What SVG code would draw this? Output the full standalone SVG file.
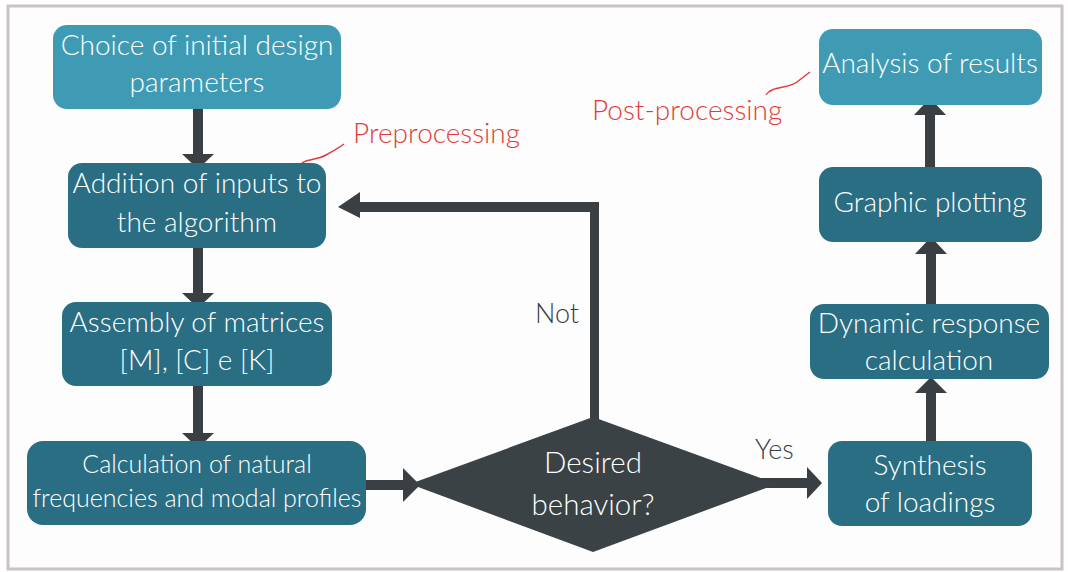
<svg xmlns="http://www.w3.org/2000/svg" width="1068" height="572" viewBox="0 0 1068 572">
<style>
.lt{fill:#3f9bb4}
.dk{fill:#2a6e84}
.t{font-family:Lato,"Open Sans","Liberation Sans",sans-serif;font-weight:300;fill:#ffffff;text-anchor:middle;font-size:28px}
.s{font-size:25px}
.d{font-size:29.5px}
.lbl{font-family:Lato,"Open Sans","Liberation Sans",sans-serif;font-weight:300;fill:#3a3f44;font-size:27px}
.red{font-family:Lato,"Open Sans","Liberation Sans",sans-serif;font-weight:300;fill:#e03c3c;font-size:28px}
.ar{fill:#3a3f44}
.cv{fill:none;stroke:#e03c3c;stroke-width:1.5}
</style>
<rect x="0" y="0" width="1068" height="572" fill="#ffffff"/>
<rect x="8" y="6" width="1054" height="563" fill="#fdfdfd" stroke="#c9c3c1" stroke-width="3"/>

<g id="connectors">
<polygon class="ar" points="193,109 203,109 203,154 214,154 198,169 182,154 193,154"/>
<polygon class="ar" points="193,248 203,248 203,293 214,293 198,308 182,293 193,293"/>
<polygon class="ar" points="193,386 203,386 203,433 214,433 198,448 182,433 193,433"/>
<polygon class="ar" points="366,480 403,480 403,468 420,485 403,502 403,490 366,490"/>
<polygon class="ar" points="750,478 807,478 807,467 822,483 807,499 807,488 750,488"/>
<polygon class="ar" points="590,432 590,212 360,212 360,218 338,207 360,192 360,202 599,202 599,432"/>
<polygon class="ar" points="926,441 926,393 915,393 931,377 947,393 936,393 936,441"/>
<polygon class="ar" points="926,304 926,254 915,254 931,237 947,254 936,254 936,304"/>
<polygon class="ar" points="925,167 925,115 914,115 930,98 946,115 935,115 935,167"/>
<path class="cv" d="M298,168 C302,158 316,161 326,155 S339,148 344,144"/>
<path class="cv" d="M766,95 C771,86 788,89 797,82 S806,75 810,72"/>
</g>

<g id="n1"><rect class="lt" x="53" y="25" width="288" height="84" rx="14"/>
<text class="t" x="197" y="55">Choice of initial design</text><text class="t" x="197" y="92">parameters</text></g>
<g id="n2"><rect class="dk" x="68" y="163" width="258" height="85" rx="14"/>
<text class="t" x="197" y="193">Addition of inputs to</text><text class="t" x="197" y="232">the algorithm</text></g>
<g id="n3"><rect class="dk" x="62" y="302" width="270" height="84" rx="14"/>
<text class="t" x="197" y="332">Assembly of matrices</text><text class="t" x="197" y="370">[M], [C] e [K]</text></g>
<g id="n4"><rect class="dk" x="27" y="441" width="339" height="84" rx="16"/>
<text class="t s" x="197" y="473">Calculation of natural</text><text class="t s" x="197" y="507">frequencies and modal profiles</text></g>
<g id="n5"><polygon fill="#3a4246" points="410,484 593,417 777,484 593,552"/>
<text class="t d" x="593" y="473">Desired</text><text class="t d" x="593" y="515">behavior?</text></g>
<g id="n6"><rect class="dk" x="828" y="441" width="204" height="85" rx="14"/>
<text class="t" x="930" y="475">Synthesis</text><text class="t" x="930" y="512">of loadings</text></g>
<g id="n7"><rect class="dk" x="810" y="304" width="239" height="75" rx="14"/>
<text class="t" x="929" y="333">Dynamic response</text><text class="t" x="929" y="370">calculation</text></g>
<g id="n8"><rect class="dk" x="819" y="167" width="223" height="75" rx="14"/>
<text class="t" x="930" y="212">Graphic plotting</text></g>
<g id="n9"><rect class="lt" x="819" y="29" width="223" height="76" rx="14"/>
<text class="t" x="930" y="73">Analysis of results</text></g>

<g id="labels">
<text class="lbl" x="535" y="323">Not</text>
<text class="lbl" x="755" y="459">Yes</text>
<text class="red" x="353" y="143">Preprocessing</text>
<text class="red" x="592" y="120">Post-processing</text>
</g>
</svg>
